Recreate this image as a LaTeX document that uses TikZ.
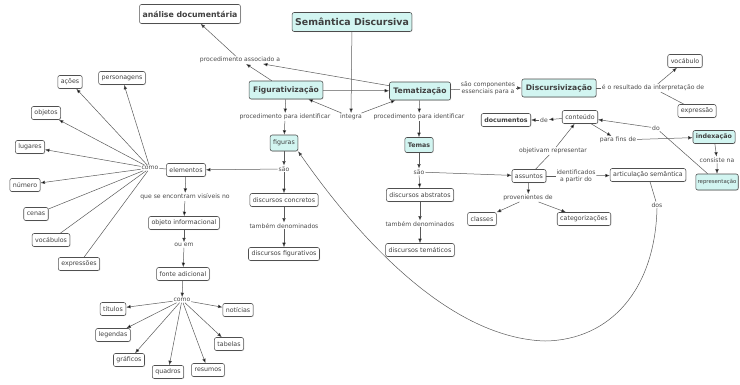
\documentclass[tikz,border=0pt]{standalone}
\usepackage{fontspec}
\setmainfont{DejaVu Sans}
\usetikzlibrary{arrows.meta,shadows}
\definecolor{keyfill}{HTML}{D2F5F1}
\definecolor{edgec}{HTML}{5A5A5A}
\definecolor{bordc}{HTML}{505050}
\begin{document}
\begin{tikzpicture}[x=1pt,y=-1pt,
 cpt/.style={draw=bordc, line width=0.55pt, rounded corners=2pt, fill=white,
   font=\fontsize{6.3}{7}\selectfont, text=black!75, inner xsep=3pt, inner ysep=2.5pt,
   minimum height=13pt,
   drop shadow={opacity=0.25,shadow xshift=0.7pt,shadow yshift=-0.7pt}},
 key/.style={cpt, fill=keyfill, draw=black!70},
 kb/.style={key, font=\fontsize{7.6}{9}\selectfont\bfseries, minimum height=18pt, inner xsep=4pt},
 bb/.style={font=\fontsize{6.3}{7}\selectfont\bfseries},
 lbl/.style={font=\fontsize{6.1}{6.8}\selectfont, text=black!70, inner sep=0.8pt, fill=white, align=center},
 ln/.style={draw=edgec, line width=0.5pt},
 ar/.style={ln, -{Latex[length=4.5pt,width=3.6pt,fill=black]}},
]
\useasboundingbox (0,0) rectangle (740,384);

% top concepts
\node[cpt, font=\fontsize{7.8}{9}\selectfont\bfseries, minimum height=19pt] (ana) at (190,14) {análise documentária};
\node[key, font=\fontsize{9.4}{11}\selectfont\bfseries, minimum height=19pt] (sem) at (352,22) {Semântica Discursiva};
\node[kb] (fig) at (286,90) {Figurativização};
\node[kb] (tem) at (420,91) {Tematização};
\node[kb] (dis) at (559,88) {Discursivização};
\node[cpt] (voc1) at (685,61) {vocábulo};
\node[cpt] (expr1) at (697,111) {expressão};
\node[cpt] (cont) at (580,117) {conteúdo};
\node[cpt, bb] (docs) at (506,120) {documentos};
\node[key, bb] (idx) at (714,137) {indexação};
\node[key, anchor=east, minimum height=16pt, inner xsep=1.8pt, font=\fontsize{5.4}{6}\selectfont] (rep) at (738.5,182) {representação};
\node[cpt] (assu) at (529,176) {assuntos};
\node[cpt] (art) at (648,175) {articulação semântica};
\node[cpt] (cla) at (482,219) {classes};
\node[cpt] (cat) at (584,219) {categorizações};
\node[key, bb, minimum height=15pt] (temas) at (419,145) {Temas};
\node[cpt] (dabs) at (420,195) {discursos abstratos};
\node[cpt] (dtem) at (420,250) {discursos temáticos};
\node[key, minimum height=16pt] (figs) at (284,143) {figuras};
\node[cpt] (dcon) at (284,200) {discursos concretos};
\node[cpt] (dfig) at (284,254) {discursos figurativos};
\node[cpt] (ele) at (186,170) {elementos};
\node[cpt] (obj) at (184,223) {objeto informacional};
\node[cpt] (fon) at (183,274) {fonte adicional};
% left fan
\node[cpt] (acoes) at (70,82) {ações};
\node[cpt] (pers) at (122,78) {personagens};
\node[cpt] (objs) at (46,113) {objetos};
\node[cpt] (lug) at (30,147) {lugares};
\node[cpt] (num) at (25,185) {número};
\node[cpt] (cenas) at (36,214) {cenas};
\node[cpt] (vocs) at (51,240) {vocábulos};
\node[cpt] (exprs) at (79,264) {expressões};
% bottom fan
\node[cpt] (tit) at (113,309) {títulos};
\node[cpt] (leg) at (113,335) {legendas};
\node[cpt] (gra) at (129,360) {gráficos};
\node[cpt] (qua) at (168,372) {quadros};
\node[cpt] (res) at (208,370) {resumos};
\node[cpt] (tab) at (229,344) {tabelas};
\node[cpt] (noti) at (238,310) {notícias};

% linking phrases
\node[lbl] (l_pa) at (240,60) {procedimento associado a};
\node[lbl] (l_int) at (351,117) {integra};
\node[lbl] (l_pi1) at (285,117) {procedimento para identificar};
\node[lbl] (l_pi2) at (419,117) {procedimento para identificar};
\node[lbl] (l_sc) at (488,88) {são componentes\\essenciais para a};
\node[lbl] (l_res) at (653,88) {é o resultado da interpretação de};
\node[lbl] (l_de) at (544,120) {de};
\node[lbl] (l_do) at (656,128) {do};
\node[lbl] (l_pf) at (618,140) {para fins de};
\node[lbl] (l_cn) at (717,160) {consiste na};
\node[lbl] (l_obr) at (553,151) {objetivam representar};
\node[lbl] (l_id) at (576,176) {identificados\\a partir do};
\node[lbl] (l_dos) at (657,205) {dos};
\node[lbl] (l_prov) at (528,198) {provenientes de};
\node[lbl] (l_sao2) at (419,172) {são};
\node[lbl] (l_td2) at (420,224) {também denominados};
\node[lbl] (l_sao1) at (284,169) {são};
\node[lbl] (l_td1) at (284,226) {também denominados};
\node[lbl] (l_como1) at (150,168) {como};
\node[lbl] (l_qse) at (185,197) {que se encontram visíveis no};
\node[lbl] (l_ou) at (184,245) {ou em};
\node[lbl] (l_como2) at (182,300) {como};

% connectors
\draw[ar] (fig) -- (l_pa);
\draw[ar] (tem) -- (l_pa);
\draw[ar] (l_pa) -- (ana);
\draw[ar] (sem) -- (l_int);
\draw[ar] (l_int) -- (fig);
\draw[ar] (l_int) -- (tem);
\draw[ar] (fig) -- (tem);
\draw[ar] (fig) -- (l_pi1);
\draw[ar] (l_pi1) -- (figs);
\draw[ar] (tem) -- (l_pi2);
\draw[ar] (l_pi2) -- (temas);
\draw[ln] (tem) -- (l_sc);
\draw[ar] (l_sc) -- (dis);
\draw[ln] (dis) -- (l_res);
\draw[ar] (l_res) -- (voc1);
\draw[ln] (l_res) -- (expr1);
\draw[ar] (cont) -- (l_de);
\draw[ar] (l_de) -- (docs);
\draw[ar] (cont) -- (l_pf);
\draw[ar] (l_pf) -- (idx);
\draw[ln] (rep) -- (l_do);
\draw[ar] (l_do) -- (cont);
\draw[ar] (idx) -- (l_cn);
\draw[ar] (l_cn) -- (rep);
\draw[ln] (assu) -- (l_obr);
\draw[ar] (l_obr) -- (cont);
\draw[ln] (assu) -- (l_id);
\draw[ar] (l_id) -- (art);
\draw[ln] (art) -- (l_dos);
\draw[ar] (l_dos.south) .. controls (655,290) and (610,340) .. (545,341)
   .. controls (450,338) and (360,240) .. (figs.south east);
\draw[ar] (assu) -- (l_prov);
\draw[ar] (l_prov) -- (cla);
\draw[ar] (l_prov) -- (cat);
\draw[ar] (temas) -- (l_sao2);
\draw[ar] (l_sao2) -- (dabs);
\draw[ar] (l_sao2) -- (assu);
\draw[ar] (dabs) -- (l_td2);
\draw[ar] (l_td2) -- (dtem);
\draw[ar] (figs) -- (l_sao1);
\draw[ar] (l_sao1) -- (dcon);
\draw[ar] (l_sao1) -- (ele);
\draw[ar] (dcon) -- (l_td1);
\draw[ar] (l_td1) -- (dfig);
\draw[ln] (ele) -- (l_como1);
\foreach \n in {acoes,pers,objs,lug,num} \draw[ar] (l_como1) -- (\n);
\foreach \n in {cenas,vocs,exprs} \draw[ln] (l_como1) -- (\n);
\draw[ar] (ele) -- (l_qse);
\draw[ar] (l_qse) -- (obj);
\draw[ar] (obj) -- (l_ou);
\draw[ar] (l_ou) -- (fon);
\draw[ar] (fon) -- (l_como2);
\foreach \n in {tit,leg,gra,qua,res,tab,noti} \draw[ar] (l_como2) -- (\n);
\end{tikzpicture}
\end{document}
